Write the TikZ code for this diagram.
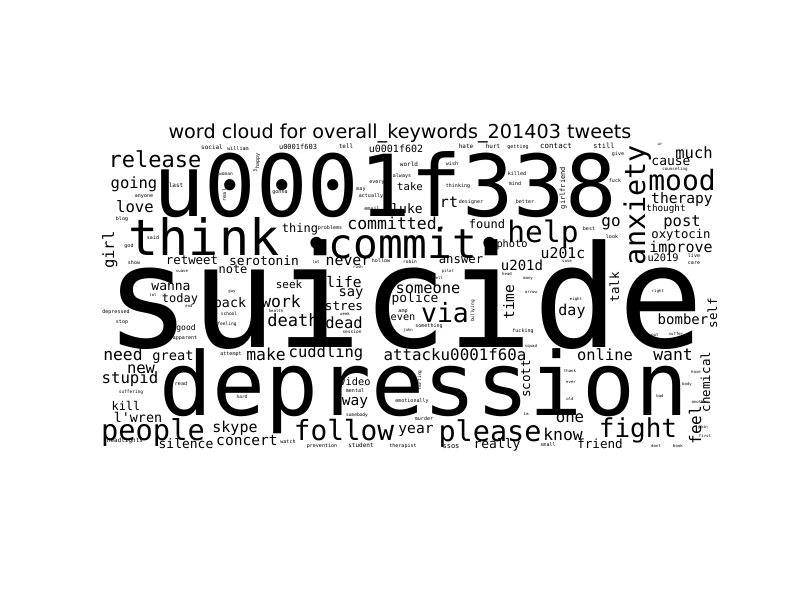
\documentclass[tikz,border=0pt]{standalone}
\usepackage{fontspec}
\newfontfamily\wcfont{DejaVu Sans Mono}
\newfontfamily\ttlfont{DejaVu Sans}
\begin{document}
\begin{tikzpicture}[x=1pt,y=-1pt,
  wd/.style={anchor=base,inner sep=0pt,text=black,font=\wcfont\fontsize{#1}{#1}\selectfont},
  vwd/.style={wd=#1,rotate=90}]
\useasboundingbox[fill=white] (0,0) rectangle (800,600);
\node[anchor=base,inner sep=0pt,font=\ttlfont\fontsize{19.2}{19.2}\selectfont] (title) at (400,138) {word cloud for overall\_keywords\_201403 tweets};
% large and medium words
\foreach \x/\y/\s/\t [count=\i] in {
 405/347/142/suicide,
 424/415/88/depression,
 385/216/85.5/u0001f338,
 204/255/50/think,
 403/258/41/•commit•,
 155/167/22/release,
 134/188/15.5/going,
 135/212/15.6/love,
 449/207/15/rt,
 407/213/13/luke,
 410/190/10.6/take,
 397/229/16.5/committed.,
 487/228/12/found,
 300/232/12/thing,
 396/152/10/u0001f602,
 298/149/7/u0001f603,
 543/242/29.5/help,
 611/226/16/go,
 682/190/28/mood,
 694/158/15.5/much,
 671/165/13/cause,
 682/203/14.6/therapy,
 666/211/9.3/thought,
 682/226/15.5/post,
 681/238/12.3/oxytocin,
 681/252/15/improve,
 663/261/10.3/u2019,
 563/258/14.8/u201c,
 522/270/14/u201d,
 512/247/10.3/photo,
 572/315/15/day,
 683/324/14/bomber,
 605/360/15.4/online,
 673/360/16.4/want,
 570/422/15.7/one,
 563/440/16.4/know,
 600/448/12.6/friend,
 638/437/26/fight,
 497/448/13/really,
 490/441/28.5/please,
 344/440/27.8/follow,
 416/433/14.6/year,
 153/440/28.7/people,
 235/432/15/skype,
 247/445/14.6/concert,
 186/448/13/silence,
 123/360/16.4/need,
 173/360/13.7/great,
 266/360/16.4/make,
 326/357/15.5/cuddling,
 455/360/15.8/attacku0001f60a,
 141/373/15.5/new,
 130/383/15.7/stupid,
 126/410/12/kill,
 138/422/13.4/l'wren,
 355/385/10.3/video,
 355/405/14.5/way,
 192/264/12.4/retweet,
 264/265/12.9/serotonin,
 233/273/12/note,
 289/288/11/seek,
 171/290/13/wanna,
 180/302/12/today,
 230/307/13.3/back,
 281/307/16.4/work,
 293/326/17/death,
 186/330/8/good,
 348/265/14.8/never,
 461/263/12.3/answer,
 344/287/14.6/life,
 351/296/13.8/say,
 428/293/15.4/someone,
 415/302/12.9/police,
 344/310/12.7/stres,
 403/320/10.2/even,
 445/322/26.5/via,
 344/328/15.5/dead}
 \node[wd=\s] (w\i) at (\x,\y) {\t};
% small words
\foreach \x/\y/\s/\t [count=\i] in {
 212/149/6/social, 238/150/5/william, 144/197/5/anyone, 176/187/6/last,
 226/175/4.5/woman, 255/171/4/us, 280/193/5/gonna, 122/220/5/blog,
 153/239/5/said, 129/247/5/god, 346/148/6/tell, 466/148/6/hate,
 493/148/6/hurt, 409/166/6/world, 452/165/5/wish, 402/177/5/always,
 377/183/5/every, 361/190/5/may, 371/197/5/actually, 458/187/5/thinking,
 471/203/5/designer, 372/210/5/email, 330/229/5/problems, 518/148/5/getting,
 556/148/7.5/contact, 604/148/7/still, 618/155/5/give, 660/145/4/ur,
 517/175/5/killed, 515/185/5/mind, 525/203/5/better, 615/182/5/fuck,
 589/230/5/best, 612/238/5/look, 694/257/5/live, 694/264/5/care,
 567/262/4/save, 507/275/4/head, 528/279/4/many, 531/293/4/arrow,
 576/300/4/eight, 658/292/4/right, 523/332/5/fucking, 655/336/4/put,
 676/335/4/suffer, 675/170/4.2/counseling, 134/264/5/show, 182/272/4/suave,
 232/292/4/guy, 153/296/4/lol, 189/307/4/end, 276/312/4/health,
 229/315/4.5/school, 227/325/4.5/feeling, 116/313/5/depressed, 122/323/5/stop,
 185/339/5/apparent, 316/263/4/lot, 381/262/5/hollow, 358/268/4/rush,
 410/263/4.5/robin, 448/272/4/pilot, 438/279/4/well, 345/315/4/week,
 403/312/5/amp, 408/331/4/john, 429/327/5/something, 352/333/4.5/session,
 231/355/5/attempt, 181/385/5/read, 131/393/4.5/suffering, 242/398/4.5/hard,
 125/442/6/headlights, 288/443/5/watch, 355/392/5/mental, 412/402/5/emotionally,
 357/416/4.5/somebody, 424/420/5/murder, 322/447/5/prevention, 361/447/6/student,
 403/447/5/therapist, 451/448/7/ssos, 531/347/4/squad, 570/372/4/thank,
 571/383/4/ever, 570/400/4/old, 526/415/4/im, 548/446/5/small,
 696/373/4/have, 687/385/4/body, 660/397/4/bad, 700/403/4/another,
 656/447/4/dont, 678/447/4/book, 703/428/4/pain, 705/437/4/first}
 \node[wd=\s] (s\i) at (\x,\y) {\t};
% vertical words
\node[vwd=28.5] (anxiety) at (645,205) {anxiety};
\node[vwd=15.5] (girl) at (114,250) {girl};
\node[vwd=14.5] (time) at (514,302) {time};
\node[vwd=12.5] (talk) at (619,287) {talk};
\node[vwd=12.6] (scott) at (530,379) {scott};
\node[vwd=16] (feel) at (701,425) {feel};
\node[vwd=12.5] (chemical) at (710,382) {chemical};
\node[vwd=12.5] (self) at (717,313) {self};
\node[vwd=5] (happy) at (259,161) {happy};
\node[vwd=7] (girlfriend) at (565,188) {girlfriend};
\node[vwd=5] (real) at (226,195) {real};
\node[vwd=4.5] (hurting) at (421,380) {hurting};
\node[vwd=4.5] (bullying) at (474,311) {bullying};
\end{tikzpicture}
\end{document}
